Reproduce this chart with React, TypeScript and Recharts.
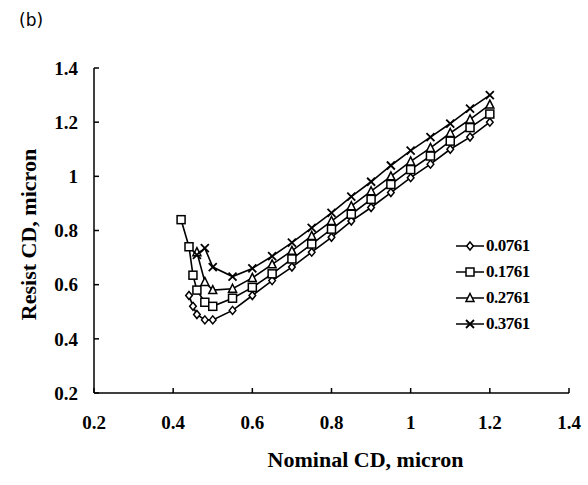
import { LineChart, Line, XAxis, YAxis } from 'recharts'

const nominalCD = [0.42, 0.44, 0.45, 0.46, 0.48, 0.5, 0.55, 0.6, 0.65, 0.7, 0.75, 0.8, 0.85, 0.9, 0.95, 1, 1.05, 1.1, 1.15, 1.2]

const cd0761 = [null, 0.56, 0.52, 0.49, 0.47, 0.47, 0.505, 0.56, 0.615, 0.665, 0.72, 0.775, 0.835, 0.885, 0.94, 0.995, 1.045, 1.1, 1.145, 1.2]
const cd1761 = [0.84, 0.74, 0.635, 0.58, 0.535, 0.52, 0.55, 0.59, 0.64, 0.695, 0.75, 0.805, 0.86, 0.915, 0.97, 1.025, 1.075, 1.13, 1.18, 1.23]
const cd2761 = [null, null, null, 0.72, 0.61, 0.58, 0.585, 0.625, 0.675, 0.725, 0.78, 0.835, 0.89, 0.945, 1.0, 1.055, 1.105, 1.16, 1.21, 1.265]
const cd3761 = [null, null, null, 0.71, 0.735, 0.665, 0.63, 0.66, 0.705, 0.755, 0.81, 0.865, 0.925, 0.98, 1.04, 1.095, 1.145, 1.195, 1.25, 1.3]

const axisTicks = [0.2, 0.4, 0.6, 0.8, 1, 1.2, 1.4]

const data = nominalCD.map((x, i) => ({
  x,
  a: cd0761[i],
  b: cd1761[i],
  c: cd2761[i],
  d: cd3761[i],
}))

const font = '"Liberation Serif", "Times New Roman", serif'

type Shape = 'diamond' | 'square' | 'triangle' | 'cross'

function Marker({ cx, cy, shape }: { cx: number; cy: number; shape: Shape }) {
  if (cx == null || cy == null) return null
  const s = 4
  const common = { stroke: '#000', strokeWidth: 1.5, fill: '#fff' }
  if (shape === 'diamond')
    return <path d={`M${cx},${cy - s}L${cx + 3.3},${cy}L${cx},${cy + s}L${cx - 3.3},${cy}Z`} {...common} />
  if (shape === 'square') return <rect x={cx - s} y={cy - s} width={2 * s} height={2 * s} {...common} />
  if (shape === 'triangle')
    return <path d={`M${cx},${cy - s - 0.5}L${cx + s},${cy + s - 0.5}L${cx - s},${cy + s - 0.5}Z`} {...common} />
  return (
    <path
      d={`M${cx - s},${cy - s}L${cx + s},${cy + s}M${cx + s},${cy - s}L${cx - s},${cy + s}`}
      stroke="#000"
      strokeWidth={1.8}
      fill="none"
    />
  )
}

const series: { key: string; name: string; shape: Shape }[] = [
  { key: 'a', name: '0.0761', shape: 'diamond' },
  { key: 'b', name: '0.1761', shape: 'square' },
  { key: 'c', name: '0.2761', shape: 'triangle' },
  { key: 'd', name: '0.3761', shape: 'cross' },
]

// legend sits inside the plot box, drawn outside recharts so it doesn't eat plot space
function LegendBox() {
  return (
    <div style={{ position: 'absolute', left: 456, top: 233, fontFamily: font, fontWeight: 'bold', fontSize: 17, letterSpacing: -0.5 }}>
      {series.map((s) => (
        <div key={s.key} style={{ display: 'flex', alignItems: 'center', height: 26 }}>
          <svg width={30} height={14}>
            <line x1={0} y1={7} x2={28} y2={7} stroke="#000" strokeWidth={1.5} />
            <Marker cx={14} cy={7} shape={s.shape} />
          </svg>
          <span>{s.name}</span>
        </div>
      ))}
    </div>
  )
}

const tickStyle = { fill: '#000', fontFamily: font, fontWeight: 'bold', fontSize: 19 }

export default function App() {
  return (
    <div style={{ position: 'absolute', left: 0, top: 0, width: 588, height: 485, background: '#fff' }}>
      <div style={{ position: 'absolute', left: 19, top: 10, fontFamily: '"DejaVu Sans", sans-serif', fontSize: 17 }}>
        (b)
      </div>
      <LineChart width={588} height={485} data={data} margin={{ top: 68, right: 19, left: 0, bottom: 0 }}>
        <XAxis
          dataKey="x"
          type="number"
          domain={[0.2, 1.4]}
          ticks={axisTicks}
          height={92}
          tickSize={-5}
          tickMargin={28}
          tick={tickStyle}
          stroke="#000"
          strokeWidth={1.5}
          label={{
            value: 'Nominal CD, micron',
            position: 'insideBottom',
            offset: 18,
            dx: 34,
            style: { fill: '#000', fontFamily: font, fontWeight: 'bold', fontSize: 22 },
          }}
        />
        <XAxis xAxisId="top" orientation="top" dataKey="x" type="number" domain={[0.2, 1.4]} height={0} tick={false} tickLine={false} stroke="#000" strokeWidth={1.5} />
        <YAxis
          type="number"
          domain={[0.2, 1.4]}
          ticks={axisTicks}
          width={94}
          tickSize={-5}
          tickMargin={21}
          tick={tickStyle}
          stroke="#000"
          strokeWidth={1.5}
          label={{
            value: 'Resist CD, micron',
            angle: -90,
            position: 'insideLeft',
            offset: 28,
            dy: 4,
            style: { fill: '#000', fontFamily: font, fontWeight: 'bold', fontSize: 22, textAnchor: 'middle' },
          }}
        />
        <YAxis yAxisId="right" orientation="right" domain={[0.2, 1.4]} width={0} tick={false} tickLine={false} stroke="#000" strokeWidth={1.5} />
        {series.map((s) => (
          <Line
            key={s.key}
            dataKey={s.key}
            name={s.name}
            stroke="#000"
            strokeWidth={1.6}
            isAnimationActive={false}
            dot={(p: any) => <Marker key={`${s.key}-${p.index}`} cx={p.cx} cy={p.cy} shape={s.shape} />}
            activeDot={false}
          />
        ))}
      </LineChart>
      <LegendBox />
    </div>
  )
}
